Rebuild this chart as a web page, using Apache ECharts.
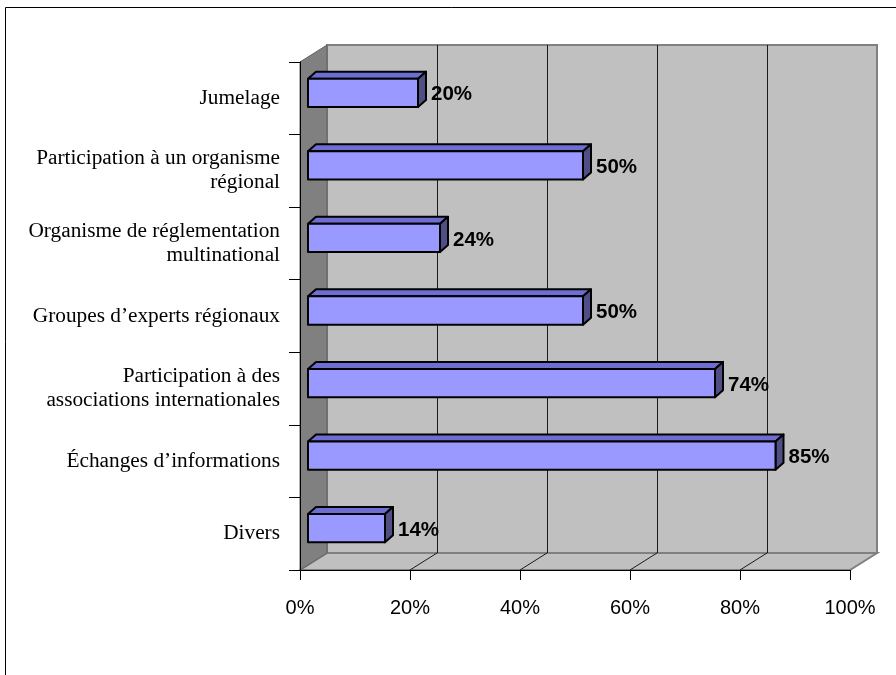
<!DOCTYPE html>
<html>
<head>
<meta charset="utf-8">
<script src="https://cdn.jsdelivr.net/npm/echarts@6/dist/echarts.min.js"></script>
<style>html,body{margin:0;padding:0;background:#fff;}#c{width:896px;height:675px;}</style>
</head>
<body>
<div id="c"></div>
<script>
const categories = [
  'Jumelage',
  'Participation à un organisme\nrégional',
  'Organisme de réglementation\nmultinational',
  'Groupes d\u2019experts régionaux',
  'Participation à des\nassociations internationales',
  'Échanges d\u2019informations',
  'Divers'
];
const values = [20, 50, 24, 50, 74, 85, 14];
const xTicks = [0, 20, 40, 60, 80, 100];

// 3D layout constants (styling only)
const DX = 27, DY = -17;       // depth of the chart box
const BX = 8, BY = -5.5;       // bar front face offset inside depth
const BDX = 8, BDY = -7;       // bar depth
const BAR_RATIO = 0.39;

const chart = echarts.init(document.getElementById('c'));

function frameRender(params, api) {
  const cs = params.coordSys;
  const x0 = cs.x, y0 = cs.y, x1 = cs.x + cs.width, y1 = cs.y + cs.height;
  const children = [];
  children.push({type:'rect', shape:{x:x0+DX, y:y0+DY, width:cs.width, height:cs.height},
    style:{fill:'#C0C0C0', stroke:'#808080', lineWidth:2}});
  children.push({type:'polygon', shape:{points:[[x0,y1],[x0+DX,y1+DY],[x1+DX,y1+DY],[x1,y1]]},
    style:{fill:'#C0C0C0', stroke:'#808080', lineWidth:2}});
  children.push({type:'polygon', shape:{points:[[x0,y0],[x0+DX,y0+DY],[x0+DX,y1+DY],[x0,y1]]},
    style:{fill:'#808080', stroke:'#606060', lineWidth:1}});
  xTicks.forEach(function(v){
    if (v === xTicks[0] || v === xTicks[xTicks.length-1]) return;
    const px = api.coord([v, 0])[0];
    children.push({type:'line', shape:{x1:px+DX+0.5, y1:y0+DY, x2:px+DX+0.5, y2:y1+DY},
      style:{stroke:'#1a1a1a', lineWidth:1}});
    children.push({type:'line', shape:{x1:px, y1:y1, x2:px+DX, y2:y1+DY},
      style:{stroke:'#1a1a1a', lineWidth:1}});
  });
  return {type:'group', children:children};
}

function barRender(params, api) {
  const idx = api.value(1);
  const val = api.value(0);
  const p0 = api.coord([0, idx]);
  const p1 = api.coord([val, idx]);
  const band = api.size([0, 1])[1];
  const h = band * BAR_RATIO;
  const fx0 = p0[0] + BX, fx1 = p1[0] + BX;
  const cy = p0[1] + BY;
  const fy0 = cy - h/2, fy1 = cy + h/2;
  const lineStyle = {stroke:'#000', lineWidth:2, lineJoin:'round'};
  return {type:'group', children:[
    {type:'polygon', shape:{points:[[fx0,fy0],[fx0+BDX,fy0+BDY],[fx1+BDX,fy0+BDY],[fx1,fy0]]},
      style:Object.assign({fill:'#6E6ED2'}, lineStyle)},
    {type:'polygon', shape:{points:[[fx1,fy0],[fx1+BDX,fy0+BDY],[fx1+BDX,fy1+BDY],[fx1,fy1]]},
      style:Object.assign({fill:'#4F4F85'}, lineStyle)},
    {type:'rect', shape:{x:fx0, y:fy0, width:fx1-fx0, height:h},
      style:Object.assign({fill:'#9999FF'}, lineStyle)},
    {type:'text', x:fx1+BDX+5, y:cy+2,
      style:{text:val + '%', fill:'#000', font:'bold 20.5px "Liberation Sans", Arial, sans-serif',
        textVerticalAlign:'middle', textAlign:'left'}}
  ]};
}

const option = {
  backgroundColor:'#fff',
  animation:false,
  graphic:[{type:'rect', shape:{x:5.5, y:7.5, width:1200, height:1200},
    style:{fill:'none', stroke:'#000', lineWidth:1}, z:-10}],
  grid:{left:300, top:62, width:550, height:508},
  xAxis:{type:'value', min:0, max:100, interval:20, z:10,
    axisLine:{show:true, lineStyle:{color:'#000', width:1}},
    axisTick:{show:true, length:10, lineStyle:{color:'#000'}},
    splitLine:{show:false},
    axisLabel:{margin:28, formatter:'{value}%', color:'#000', fontSize:20,
      fontFamily:'"Liberation Sans", Arial, sans-serif'}},
  yAxis:{type:'category', data:categories, inverse:true, z:10,
    axisLine:{show:true, lineStyle:{color:'#000', width:1}},
    axisTick:{show:true, length:11, lineStyle:{color:'#000'}},
    axisLabel:{margin:20, color:'#000', fontSize:21.3, lineHeight:24, align:'right',
      fontFamily:'"Liberation Serif", "Times New Roman", serif'}},
  series:[
    {type:'custom', name:'frame', renderItem:frameRender, data:[[0,0]], z:1, silent:true},
    {type:'custom', name:'bars', renderItem:barRender, z:3,
      data: values.map(function(v,i){return [v,i];}),
      encode:{x:0, y:1}}
  ]
};
chart.setOption(option);
</script>
</body>
</html>
